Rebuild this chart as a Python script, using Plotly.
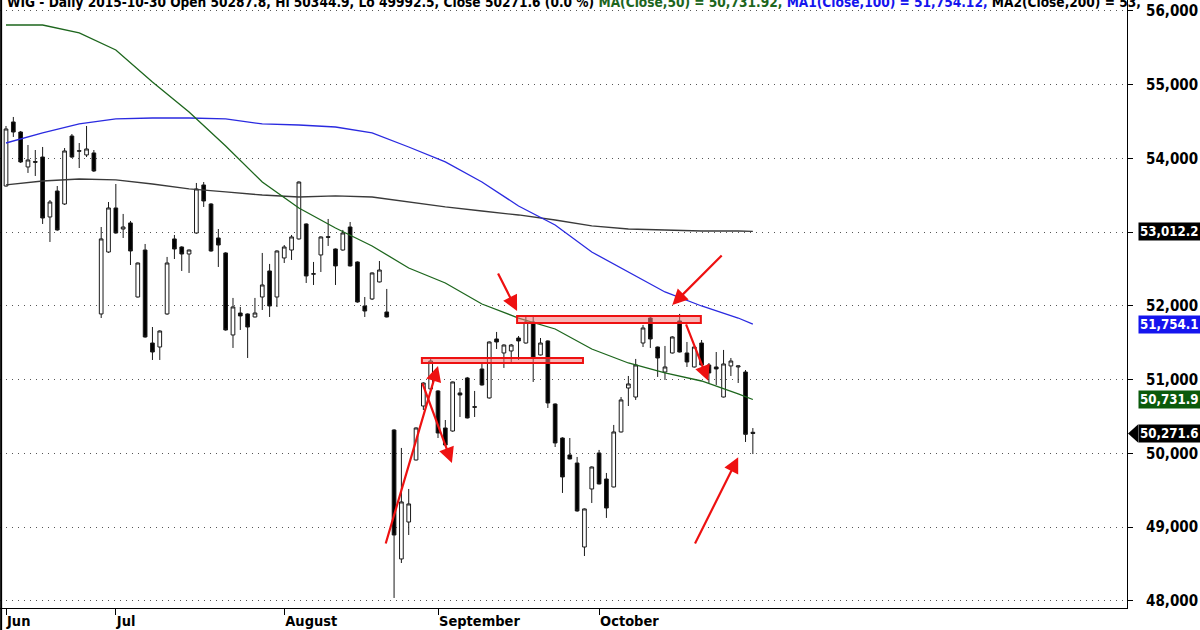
import pandas as pd
import plotly.graph_objects as go

# ---------------- data ----------------
dates = pd.bdate_range("2015-06-10", "2015-10-30")

opens = [53627, 54495, 54359, 53885, 53958, 54020, 53207, 53559, 53383, 54305,
         54105, 54048, 54075, 51892, 52732, 53329, 53044, 53126, 52122, 52759,
         51498, 51444, 51892, 52909, 52800, 52705, 52990, 53641, 53383, 52922,
         52719, 51607, 51905, 51892, 51851, 52122, 52475, 52122, 52651, 52759,
         52909, 53112, 52430, 52692, 52940, 52773, 52759, 53071, 52597, 52000,
         52095, 52326, 51919, 50319, 48570, 49071, 49912, 50644, 50875, 50848,
         50346, 50305, 50821, 51024, 50635, 51146, 50753, 51553, 51363, 51390,
         51566, 51498, 51783, 51336, 51526, 50671, 50210, 49980, 49871, 48732,
         49519, 50007, 49654, 49546, 50292, 50888, 50766, 51498, 51837, 51444,
         51105, 51363, 51797, 51363, 51173, 51498, 51200, 51173, 50766, 51187,
         51173, 51105, 50287.8]
highs = [54441, 54563, 54373, 54183, 54115, 54156, 53437, 53627, 54142, 54332,
         54210, 54441, 54115, 53071, 53410, 53654, 53248, 53153, 52590, 52841,
         51715, 51670, 52665, 52963, 52810, 52765, 53668, 53681, 53395, 53044,
         52730, 52109, 51987, 51900, 52109, 52719, 52570, 52755, 52827, 52963,
         53690, 53120, 52597, 52945, 53180, 52780, 53031, 53139, 52605, 52122,
         52455, 52610, 52231, 50330, 50075, 49519, 50355, 50965, 51282, 50860,
         50454, 50975, 50888, 51038, 50848, 51227, 51520, 51648, 51480, 51485,
         51593, 51851, 51851, 51566, 51535, 50680, 50220, 50210, 49953, 49255,
         49825, 50048, 49736, 50387, 50766, 51051, 51282, 51743, 51878, 51450,
         51458, 51590, 51892, 51512, 51450, 51539, 51227, 51376, 51404, 51295,
         51190, 51132, 50344.9]
lows = [53620, 54292, 53939, 53804, 53763, 53112, 52868, 53020, 53370, 54007,
        53871, 54020, 53817, 51837, 52720, 52980, 52922, 52556, 52115, 51570,
        51268, 51268, 51880, 52637, 52475, 52448, 52980, 53343, 52735, 52529,
        51665, 51431, 51675, 51295, 51845, 51946, 51851, 51987, 52583, 52624,
        52900, 52312, 52285, 52461, 52814, 52285, 52750, 52535, 52045, 51851,
        52081, 52320, 51845, 48041, 48515, 48895, 49905, 50590, 50865, 50210,
        50105, 50295, 50495, 50475, 50495, 50920, 50745, 51417, 51160, 51227,
        51268, 51490, 50970, 51330, 50617, 50088, 49465, 49920, 49210, 48610,
        49329, 49580, 49126, 49540, 50285, 50644, 50726, 51444, 51431, 51038,
        50997, 51355, 51370, 51173, 51165, 51195, 50956, 50929, 50760, 51051,
        50956, 50156, 49992.5]
closes = [54400, 54359, 53953, 53980, 53950, 53193, 53410, 53031, 54102, 54020,
          54100, 54129, 53831, 52909, 53329, 52990, 53071, 52746, 52583, 51580,
          51376, 51661, 52583, 52773, 52705, 52759, 53587, 53424, 52746, 52827,
          51675, 51987, 51865, 51715, 51905, 52285, 52000, 52746, 52800, 52936,
          53681, 52407, 52438, 52936, 52932, 52543, 52990, 52543, 52054, 51932,
          52448, 52488, 51851, 48895, 49343, 49316, 50346, 50956, 51254, 50278,
          50115, 50970, 50793, 50482, 50628, 50929, 51512, 51512, 51471, 51471,
          51526, 51783, 51295, 51498, 50685, 50143, 49682, 49926, 49221, 49248,
          49817, 49587, 49261, 50292, 50726, 50943, 51200, 51702, 51553, 51295,
          51173, 51580, 51376, 51241, 51444, 51200, 51092, 51146, 51214, 51254,
          51187, 50260, 50271.6]

ma_idx = [0, 5, 10, 15, 20, 25, 30, 35, 40, 45, 50, 55, 60, 65, 70, 75, 80, 85, 90, 95, 100, 102]
ma50 = [55810, 55810, 55702, 55471, 55037, 54631, 54170, 53681, 53329, 53058, 52814,
        52515, 52312, 52027, 51837, 51688, 51417, 51227, 51092, 50983, 50807, 50731.92]
ma100 = [54210, 54346, 54468, 54536, 54549, 54549, 54536, 54468, 54454, 54427, 54346,
         54156, 53953, 53681, 53356, 53098, 52732, 52461, 52190, 52000, 51837, 51754.12]
ma200 = [53641, 53695, 53722, 53709, 53654, 53587, 53546, 53505, 53478, 53492, 53478,
         53410, 53343, 53288, 53234, 53166, 53085, 53044, 53031, 53017, 53017, 53012.2]

price_ticks = list(range(48000, 56001, 1000))
month_names = ["Jun", "Jul", "August", "September", "October"]

# annotation drawings (bar index, price)
arrows = [  # (tail_x, tail_y, tip_x, tip_y)
    (51.8, 48759, 59.0, 51186),
    (56.8, 50970, 60.9, 49872),
    (67.1, 52461, 69.8, 51932),
    (97.95, 52705, 91.0, 52014),
    (92.8, 51770, 95.9, 50985),
    (94.0, 48759, 100.0, 49950),
]
zones = [  # (x0, x1, y0, y1)
    (56.8, 78.8, 51227, 51295),
    (69.8, 94.9, 51770, 51864),
]

# ---------------- figure ----------------
x = list(range(len(dates)))
month_pos = []
seen = set()
for i, d in enumerate(dates):
    if d.month not in seen:
        seen.add(d.month)
        month_pos.append(i)

FONT = "DejaVu Sans Condensed"
RED = "#ee1111"

fig = go.Figure()
fig.add_trace(go.Candlestick(
    x=x, open=opens, high=highs, low=lows, close=closes,
    increasing=dict(line=dict(color="#1a1a1a", width=1), fillcolor="white"),
    decreasing=dict(line=dict(color="#1a1a1a", width=1), fillcolor="black"),
    whiskerwidth=0, showlegend=False, hoverinfo="skip"))

for vals, color in [(ma200, "#3a3a3a"), (ma100, "#2a2ae0"), (ma50, "#1d661d")]:
    fig.add_trace(go.Scatter(x=ma_idx, y=vals, mode="lines",
                             line=dict(color=color, width=1.3), showlegend=False,
                             hoverinfo="skip"))

shapes = []
for (x0, x1, y0, y1) in zones:
    shapes.append(dict(type="rect", xref="x", yref="y", x0=x0, x1=x1, y0=y0, y1=y1,
                       line=dict(color=RED, width=2), fillcolor="rgba(240,120,120,0.55)",
                       layer="above"))
# left frame line
shapes.append(dict(type="line", xref="paper", yref="paper", x0=0.001, x1=0.001,
                   y0=-0.04, y1=1, line=dict(color="black", width=2)))

annotations = []
for (tx, ty, hx, hy) in arrows:
    annotations.append(dict(x=hx, y=hy, ax=tx, ay=ty, xref="x", yref="y",
                            axref="x", ayref="y", showarrow=True, text="",
                            arrowhead=2, arrowsize=1.4, arrowwidth=2.2,
                            arrowcolor=RED))

# last value labels on the right axis
last_labels = [
    (ma200[-1], "black"),
    (ma100[-1], "#1515ee"),
    (ma50[-1], "#0b5a0b"),
    (closes[-1], "black"),
]
for val, bg in last_labels:
    annotations.append(dict(xref="paper", yref="y", x=1.0098, y=val, xanchor="left",
                            yanchor="middle", text=f"{val:,.1f}", showarrow=False,
                            bgcolor=bg, borderpad=1,
                            font=dict(family=FONT, size=13.2, color="white", weight="bold")))
# pointer on the close label
cl = closes[-1]
shapes.append(dict(type="path", xref="paper", yref="y",
                   path=f"M 1.0009 {cl} L 1.0100 {cl + 125} L 1.0100 {cl - 125} Z",
                   fillcolor="black", line=dict(width=0)))

title_html = (
    "WIG - Daily 2015-10-30 Open 50287.8, Hi 50344.9, Lo 49992.5, Close 50271.6 (0.0 %) "
    "<span style='color:#1d661d'>MA(Close,50) = 50,731.92,</span> "
    "<span style='color:#1515ee'>MA1(Close,100) = 51,754.12,</span> "
    "MA2(Close,200) = 53,"
)
annotations.append(dict(xref="paper", yref="paper", x=0.004, y=0.996, xanchor="left",
                        yanchor="middle", text=title_html, showarrow=False,
                        font=dict(family=FONT, size=13.6, color="black", weight="bold")))

fig.update_layout(
    width=1200, height=630,
    margin=dict(l=0, r=73, t=0, b=22),
    paper_bgcolor="white", plot_bgcolor="white",
    boxgap=0.28,
    font=dict(family=FONT, size=14, color="black", weight="bold"),
    shapes=shapes, annotations=annotations,
)
fig.update_xaxes(range=[-0.82, 153.1], rangeslider_visible=False,
                 tickmode="array", tickvals=month_pos, ticktext=month_names,
                 ticks="outside", ticklen=6, tickcolor="black",
                 ticklabelposition="outside right",
                 showline=True, linecolor="black", linewidth=1,
                 showgrid=False, zeroline=False,
                 tickfont=dict(family=FONT, size=14.5, color="black", weight="bold"))
fig.update_yaxes(side="right", range=[47905, 56149],
                 tickmode="array", tickvals=price_ticks, tickformat=",",
                 ticks="outside", ticklen=5, tickcolor="black",
                 showline=True, linecolor="black", linewidth=1,
                 showgrid=True, gridcolor="#555", griddash="1px,5px", gridwidth=1,
                 zeroline=False, ticklabelstandoff=10,
                 tickfont=dict(family=FONT, size=15, color="black", weight="bold"))

fig.write_html("out.html", config={"displayModeBar": False},
               post_script="document.body.style.margin='0px';document.body.style.overflow='hidden';")
